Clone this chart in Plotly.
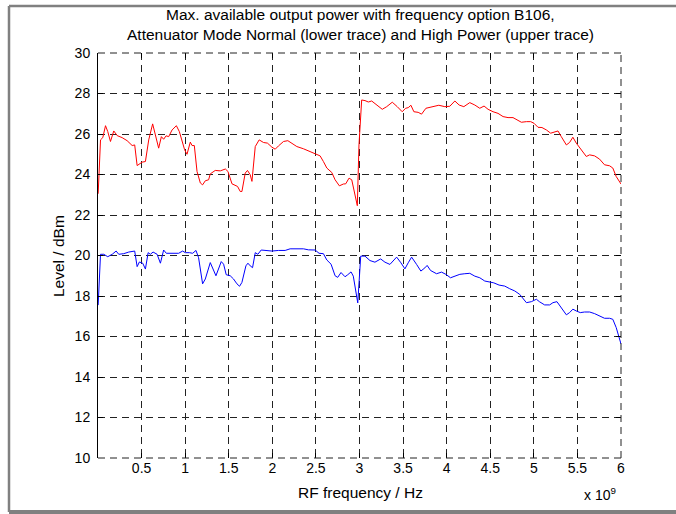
import numpy as np
import plotly.graph_objects as go

# ---- data (frequency in GHz, level in dBm) ----
high_freq_ghz = [0.002, 0.029, 0.055, 0.086, 0.112, 0.143, 0.181, 0.220, 0.277, 0.334, 0.392, 0.421,
                 0.449, 0.487, 0.506, 0.544, 0.582, 0.627, 0.658, 0.696, 0.727, 0.753, 0.781, 0.811,
                 0.850, 0.899, 0.933, 0.971, 0.994, 1.021, 1.059, 1.079, 1.105, 1.136, 1.174, 1.200,
                 1.231, 1.269, 1.288, 1.345, 1.403, 1.461, 1.491, 1.537, 1.574, 1.601, 1.632, 1.651,
                 1.689, 1.715, 1.746, 1.766, 1.804, 1.849, 1.899, 1.944, 1.995, 2.033, 2.070, 2.128,
                 2.178, 2.224, 2.281, 2.357, 2.433, 2.491, 2.548, 2.586, 2.625, 2.682, 2.720, 2.769,
                 2.815, 2.842, 2.880, 2.911, 2.949, 2.975, 2.994, 3.017, 3.025, 3.063, 3.101, 3.140,
                 3.197, 3.261, 3.312, 3.376, 3.433, 3.490, 3.529, 3.559, 3.590, 3.624, 3.673, 3.712,
                 3.762, 3.807, 3.857, 3.910, 3.979, 4.036, 4.094, 4.143, 4.197, 4.265, 4.323, 4.380,
                 4.429, 4.475, 4.532, 4.589, 4.647, 4.704, 4.761, 4.800, 4.857, 4.915, 4.964, 5.002,
                 5.048, 5.093, 5.144, 5.193, 5.239, 5.277, 5.315, 5.373, 5.410, 5.448, 5.487, 5.544,
                 5.602, 5.640, 5.697, 5.754, 5.811, 5.869, 5.906, 5.945, 6.000]
high_level_dbm = [23.05, 25.71, 25.82, 26.41, 26.12, 25.63, 26.15, 25.92, 25.82, 25.67, 25.43, 25.46,
                  24.44, 24.53, 24.61, 24.64, 25.71, 26.50, 25.96, 25.30, 25.87, 25.74, 25.91, 25.87,
                  26.20, 26.41, 26.12, 25.55, 25.22, 25.00, 25.60, 25.43, 25.43, 24.15, 23.58, 23.49,
                  23.69, 23.74, 24.03, 24.20, 24.18, 24.27, 24.15, 23.54, 23.46, 23.41, 23.16, 23.16,
                  24.07, 24.20, 23.99, 23.66, 25.38, 25.71, 25.58, 25.55, 25.35, 25.25, 25.41, 25.63,
                  25.67, 25.55, 25.38, 25.27, 25.13, 25.02, 24.92, 24.64, 24.32, 24.10, 23.74, 23.44,
                  23.53, 23.54, 23.82, 23.74, 22.92, 22.46, 25.46, 27.65, 27.68, 27.65, 27.58, 27.63,
                  27.43, 27.22, 27.35, 27.57, 27.35, 27.10, 27.27, 27.30, 27.42, 27.10, 27.07, 26.98,
                  27.27, 27.32, 27.35, 27.42, 27.35, 27.37, 27.63, 27.43, 27.35, 27.55, 27.43, 27.27,
                  27.38, 27.22, 27.10, 27.02, 26.86, 26.81, 26.81, 26.73, 26.58, 26.61, 26.61, 26.53,
                  26.33, 26.32, 26.20, 26.04, 26.09, 26.15, 25.87, 25.46, 25.58, 25.84, 25.55, 25.22,
                  24.89, 24.97, 24.92, 24.76, 24.48, 24.43, 24.32, 23.90, 23.53]

normal_freq_ghz = [0.002, 0.029, 0.066, 0.112, 0.163, 0.208, 0.238, 0.295, 0.353, 0.410, 0.421, 0.449,
                   0.475, 0.513, 0.544, 0.575, 0.601, 0.632, 0.678, 0.716, 0.753, 0.784, 0.850, 0.925,
                   0.971, 1.002, 1.048, 1.086, 1.124, 1.154, 1.200, 1.231, 1.288, 1.326, 1.353, 1.414,
                   1.441, 1.471, 1.517, 1.555, 1.594, 1.624, 1.651, 1.697, 1.720, 1.746, 1.773, 1.804,
                   1.834, 1.872, 1.918, 1.995, 2.070, 2.147, 2.204, 2.281, 2.357, 2.414, 2.491, 2.536,
                   2.586, 2.625, 2.674, 2.720, 2.750, 2.788, 2.834, 2.865, 2.903, 2.929, 2.957, 2.980,
                   3.014, 3.063, 3.120, 3.177, 3.243, 3.292, 3.349, 3.426, 3.475, 3.521, 3.559, 3.598,
                   3.655, 3.704, 3.750, 3.776, 3.815, 3.884, 3.941, 3.991, 4.044, 4.094, 4.151, 4.208,
                   4.265, 4.323, 4.380, 4.437, 4.486, 4.540, 4.601, 4.666, 4.723, 4.781, 4.838, 4.876,
                   4.915, 4.972, 5.029, 5.067, 5.124, 5.182, 5.219, 5.265, 5.315, 5.373, 5.410, 5.448,
                   5.487, 5.533, 5.582, 5.640, 5.697, 5.754, 5.811, 5.869, 5.906, 5.945, 6.000]
normal_level_dbm = [17.55, 20.06, 20.06, 19.94, 20.06, 20.22, 20.06, 20.09, 20.17, 20.22, 20.22, 19.45,
                    19.68, 19.62, 19.33, 20.14, 20.06, 20.17, 20.06, 19.62, 20.27, 20.11, 20.11, 20.11,
                    20.22, 20.14, 20.14, 20.11, 20.25, 19.89, 18.60, 18.84, 19.65, 19.24, 19.00, 19.70,
                    19.57, 19.05, 19.00, 18.84, 18.60, 18.48, 18.67, 19.49, 19.62, 19.49, 19.40, 20.14,
                    20.06, 20.27, 20.25, 20.22, 20.25, 20.25, 20.33, 20.33, 20.33, 20.28, 20.27, 20.11,
                    20.09, 19.78, 19.57, 19.00, 18.92, 19.16, 18.95, 19.05, 19.19, 18.98, 18.27, 17.66,
                    19.97, 19.97, 19.75, 19.67, 19.83, 19.67, 19.56, 19.92, 19.64, 19.34, 19.64, 19.92,
                    19.56, 19.23, 19.39, 19.51, 19.26, 19.10, 19.18, 19.07, 18.90, 18.98, 19.07, 19.10,
                    19.12, 18.98, 18.90, 18.74, 18.69, 18.65, 18.54, 18.49, 18.36, 18.25, 18.08, 17.87,
                    17.67, 17.72, 17.84, 17.71, 17.56, 17.56, 17.67, 17.72, 17.40, 17.07, 17.18, 17.35,
                    17.26, 17.18, 17.21, 17.21, 17.13, 17.02, 16.90, 16.90, 16.85, 16.44, 15.63]

x_tick_values_ghz = [0.5, 1, 1.5, 2, 2.5, 3, 3.5, 4, 4.5, 5, 5.5, 6]
x_tick_labels = ["0.5", "1", "1.5", "2", "2.5", "3", "3.5", "4", "4.5", "5", "5.5", "6"]
y_tick_values = [10, 12, 14, 16, 18, 20, 22, 24, 26, 28, 30]

title_lines = ["Max. available output power with frequency option B106,",
               "Attenuator Mode Normal (lower trace) and High Power (upper trace)"]
x_label = "RF frequency / Hz"
y_label = "Level / dBm"

# ---- figure ----
W, H = 676, 514
L, R, T, B = 98, 55, 53, 56
pw, ph = W - L - R, H - T - B


def px_x(p):
    return (p - L) / pw


def px_y(p):
    return (H - B - p) / ph


FONT = "Liberation Sans, Arial, sans-serif"
fs = 14        # tick labels
fs_lab = 15.5  # title and axis labels

hz = 1e9
fig = go.Figure()
fig.add_trace(go.Scatter(x=np.array(high_freq_ghz) * hz, y=high_level_dbm, mode="lines",
                         line=dict(color="#ff0000", width=1), showlegend=False, hoverinfo="skip"))
fig.add_trace(go.Scatter(x=np.array(normal_freq_ghz) * hz, y=normal_level_dbm, mode="lines",
                         line=dict(color="#0000ff", width=1), showlegend=False, hoverinfo="skip"))
# dummy trace to create mirrored tick axes
fig.add_trace(go.Scatter(x=[None], y=[None], xaxis="x2", yaxis="y2", showlegend=False,
                         hoverinfo="skip", mode="lines"))

tickvals_hz = [v * hz for v in x_tick_values_ghz]
grid_kw = dict(showgrid=True, gridcolor="#222222", gridwidth=1, griddash="7px,5px")

fig.update_layout(
    width=W, height=H,
    margin=dict(l=L, r=R, t=T, b=B, pad=0),
    paper_bgcolor="white", plot_bgcolor="white",
    font=dict(family=FONT, size=fs, color="black"),
    xaxis=dict(range=[0, 6 * hz], tickvals=tickvals_hz, ticktext=x_tick_labels,
               ticks="inside", ticklen=5, tickcolor="black", tickwidth=1,
               showline=False, zeroline=False, tickfont=dict(size=fs), **grid_kw),
    yaxis=dict(range=[10, 30], tickvals=y_tick_values, ticks="inside", ticklen=5,
               tickcolor="black", tickwidth=1, showline=True, linecolor="black", linewidth=1,
               zeroline=False, tickfont=dict(size=fs), ticklabelstandoff=4, **grid_kw),
    xaxis2=dict(range=[0, 6 * hz], tickvals=tickvals_hz, overlaying="x", side="top",
                ticks="inside", ticklen=5, tickcolor="black", showticklabels=False,
                showgrid=False, showline=False, zeroline=False, anchor="y2"),
    yaxis2=dict(range=[10, 30], tickvals=y_tick_values, overlaying="y", side="right",
                ticks="inside", ticklen=5, tickcolor="black", showticklabels=False,
                showgrid=False, showline=False, zeroline=False, anchor="x2"),
)

shapes = []
# dashed frame (top, bottom, right) like the reference
dash = "7px,5px"
shapes.append(dict(type="line", xref="paper", yref="paper", x0=0, x1=1, y0=1, y1=1,
                   line=dict(color="#222222", width=1, dash=dash)))
shapes.append(dict(type="line", xref="paper", yref="paper", x0=0, x1=1, y0=0, y1=0,
                   line=dict(color="#222222", width=1, dash=dash)))
shapes.append(dict(type="line", xref="paper", yref="paper", x0=1, x1=1, y0=0, y1=1,
                   line=dict(color="#222222", width=1, dash=dash)))
# outer grey border of the figure
gray = "#808080"
shapes.append(dict(type="line", xref="paper", yref="paper", x0=px_x(9), x1=px_x(680),
                   y0=px_y(6), y1=px_y(6), line=dict(color=gray, width=2.5)))
shapes.append(dict(type="line", xref="paper", yref="paper", x0=px_x(9), x1=px_x(9),
                   y0=px_y(6), y1=px_y(512), line=dict(color=gray, width=2.5)))
shapes.append(dict(type="line", xref="paper", yref="paper", x0=px_x(9), x1=px_x(680),
                   y0=px_y(512), y1=px_y(512), line=dict(color=gray, width=4)))
fig.update_layout(shapes=shapes)

ann = [
    dict(text=title_lines[0], x=px_x(360), y=px_y(15), xanchor="center", yanchor="middle", size=fs_lab),
    dict(text=title_lines[1], x=px_x(360), y=px_y(35), xanchor="center", yanchor="middle", size=fs_lab),
    dict(text=x_label, x=px_x(360), y=px_y(492), xanchor="center", yanchor="middle", size=fs_lab),
    dict(text=y_label, x=px_x(58), y=px_y(256), xanchor="center", yanchor="middle", textangle=-90,
         size=fs_lab),
    dict(text="x 10<sup>9</sup>", x=px_x(600), y=px_y(494), xanchor="center", yanchor="middle", size=fs),
]
for a in ann:
    s = a.pop("size")
    a.update(xref="paper", yref="paper", showarrow=False, font=dict(family=FONT, size=s, color="black"))
fig.update_layout(annotations=ann)

fig.write_html("out.html", config={"displayModeBar": False},
               post_script="document.body.style.margin='0';document.body.style.overflow='hidden';")
